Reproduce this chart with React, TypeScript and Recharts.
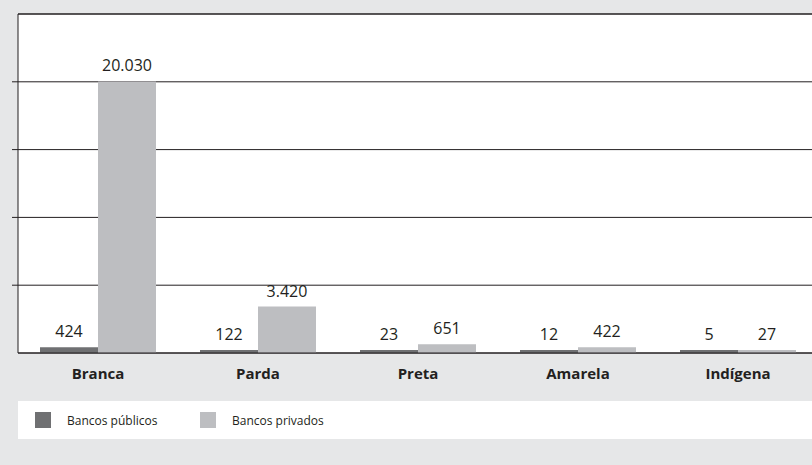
import { BarChart, Bar, XAxis, YAxis, CartesianGrid, ReferenceLine, Legend, LabelList } from "recharts";

const categories = ["Branca", "Parda", "Preta", "Amarela", "Indígena"];
const publicos = [424, 122, 23, 12, 5];
const privados = [20030, 3420, 651, 422, 27];
const yTicks = [5000, 10000, 15000, 20000];

const data = categories.map((name, i) => ({
  name,
  publicos: publicos[i],
  privados: privados[i],
}));

const DARK = "#6f7072";
const LIGHT = "#bdbec1";
const INK = "#231f20";
const FONT = "'Open Sans', sans-serif";

const fmt = (v: number) => String(v).replace(/\B(?=(\d{3})+(?!\d))/g, ".");

function LegendBox() {
  const items = [
    { label: "Bancos públicos", color: DARK },
    { label: "Bancos privados", color: LIGHT },
  ];
  return (
    <div
      style={{
        background: "#fff",
        height: 38,
        display: "flex",
        alignItems: "center",
        paddingLeft: 17,
        fontFamily: FONT,
        fontSize: 12,
        color: INK,
      }}
    >
      {items.map((it) => (
        <div key={it.label} style={{ display: "flex", alignItems: "center", width: 165 }}>
          <span style={{ width: 16, height: 16, background: it.color, marginRight: 16 }} />
          {it.label}
        </div>
      ))}
    </div>
  );
}

export default function App() {
  return (
    <div
      style={{
        position: "absolute",
        left: 0,
        top: 0,
        width: 812,
        height: 465,
        background: "#e6e7e8",
        overflow: "hidden",
      }}
    >
      <BarChart
        width={820}
        height={465}
        data={data}
        margin={{ top: 14, right: 2, left: 12, bottom: 44 }}
        barGap={0}
      >
        <CartesianGrid vertical={false} fill="#fff" stroke={INK} strokeOpacity={1} />
        <XAxis
          dataKey="name"
          height={30}
          axisLine={{ stroke: INK }}
          tickLine={false}
          tickMargin={9}
          tick={{ fill: INK, fontFamily: FONT, fontSize: 15, fontWeight: 700 }}
        />
        <YAxis
          width={6}
          domain={[0, 25000]}
          ticks={yTicks}
          axisLine={{ stroke: INK }}
          tickLine={{ stroke: INK }}
          tickSize={6}
          tick={{ fill: "transparent", fontSize: 1 }}
        />
        <ReferenceLine y={25000} stroke={INK} />
        <Legend
          verticalAlign="bottom"
          wrapperStyle={{ left: 18, width: 800, bottom: 26 }}
          content={() => <LegendBox />}
        />
        <Bar dataKey="publicos" name="Bancos públicos" fill={DARK} barSize={58} minPointSize={3} isAnimationActive={false}>
          <LabelList dataKey="publicos" position="top" offset={10} formatter={(v: any) => fmt(v)} style={{ fill: INK, fontFamily: FONT, fontSize: 16 }} />
        </Bar>
        <Bar dataKey="privados" name="Bancos privados" fill={LIGHT} barSize={58} minPointSize={3} isAnimationActive={false}>
          <LabelList dataKey="privados" position="top" offset={10} formatter={(v: any) => fmt(v)} style={{ fill: INK, fontFamily: FONT, fontSize: 16 }} />
        </Bar>
      </BarChart>
    </div>
  );
}
